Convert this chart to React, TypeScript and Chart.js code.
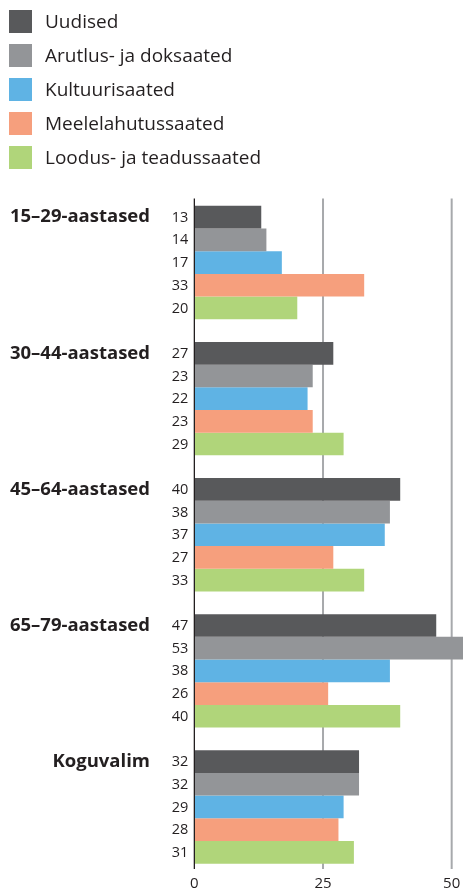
import React, { useEffect, useRef } from "react";
import { Chart, registerables } from "chart.js";

Chart.register(...registerables);

const categories = ["15–29-aastased", "30–44-aastased", "45–64-aastased", "65–79-aastased", "Koguvalim"];
const seriesNames = ["Uudised", "Arutlus- ja doksaated", "Kultuurisaated", "Meelelahutussaated", "Loodus- ja teadussaated"];
const uudised = [13, 27, 40, 47, 32];
const arutlus = [14, 23, 38, 53, 32];
const kultuur = [17, 22, 37, 38, 29];
const meelelahutus = [33, 23, 27, 26, 28];
const loodus = [20, 29, 33, 40, 31];
const xTicks = [0, 25, 50];
const colors = ["#58595b", "#939598", "#5fb3e4", "#f69f7d", "#b0d57a"];

const FONT = "'Open Sans', 'Noto Sans', sans-serif";
const TEXT = "#231f20";

const labelPlugin = {
  id: "customLabels",
  beforeDatasetsDraw(chart: any) {
    const { ctx, chartArea, scales } = chart;
    const x = scales.x;
    ctx.save();
    xTicks.forEach((v) => {
      if (v === 0) return;
      const px = x.getPixelForValue(v);
      ctx.beginPath();
      ctx.strokeStyle = "#a7a9ac";
      ctx.lineWidth = 2;
      ctx.moveTo(px, chartArea.top + 4);
      ctx.lineTo(px, chartArea.bottom - 6);
      ctx.stroke();
    });
    ctx.restore();
  },
  afterDatasetsDraw(chart: any) {
    const { ctx, chartArea, scales } = chart;
    const x = scales.x;
    ctx.save();
    const p0 = x.getPixelForValue(0);
    ctx.beginPath();
    ctx.strokeStyle = TEXT;
    ctx.lineWidth = 1.3;
    ctx.moveTo(p0, chartArea.top + 4);
    ctx.lineTo(p0, chartArea.bottom - 6);
    ctx.stroke();

    ctx.fillStyle = TEXT;
    ctx.textBaseline = "middle";
    ctx.textAlign = "right";
    ctx.font = `14.5px ${FONT}`;
    chart.data.datasets.forEach((ds: any, i: number) => {
      const meta = chart.getDatasetMeta(i);
      meta.data.forEach((bar: any, j: number) => {
        ctx.fillText(String(ds.data[j]), chartArea.left - 6, bar.y + 0.5);
      });
    });
    ctx.font = `bold 18.5px ${FONT}`;
    const first = chart.getDatasetMeta(0);
    categories.forEach((c, j) => {
      const bar = first.data[j];
      ctx.fillText(c, 150, bar.y);
    });
    ctx.restore();
  },
};

export default function App() {
  const ref = useRef<HTMLCanvasElement>(null);
  useEffect(() => {
    if (!ref.current) return;
    const series = [uudised, arutlus, kultuur, meelelahutus, loodus];
    const chart = new Chart(ref.current, {
      type: "bar",
      data: {
        labels: categories,
        datasets: series.map((d, i) => ({
          label: seriesNames[i],
          data: d,
          backgroundColor: colors[i],
          borderWidth: 0,
          categoryPercentage: 5 / 6,
          barPercentage: 1,
        })),
      },
      options: {
        indexAxis: "y",
        animation: false,
        responsive: false,
        maintainAspectRatio: false,
        layout: { padding: { left: 194.35, top: 194.5, right: 0, bottom: 0 } },
        plugins: { legend: { display: false }, tooltip: { enabled: false } },
        scales: {
          x: {
            type: "linear",
            min: 0,
            max: 52.2,
            grid: { display: false, drawTicks: false, tickLength: 0 },
            border: { display: false },
            ticks: { font: { size: 15, family: FONT, lineHeight: 1 }, color: TEXT, padding: 1, maxRotation: 0 },
            afterBuildTicks: (s: any) => {
              s.ticks = xTicks.map((v) => ({ value: v }));
            },
          },
          y: { type: "category", display: false, offset: true },
        },
      },
      plugins: [labelPlugin],
    } as any);
    return () => chart.destroy();
  }, []);

  return (
    <div style={{ position: "absolute", left: 0, top: 0, width: 463, height: 891, overflow: "hidden", background: "#fff" }}>
      <canvas ref={ref} width={463} height={892} style={{ position: "absolute", left: 0, top: 0 }} />
      {seriesNames.map((n, i) => (
        <div key={n} style={{ position: "absolute", left: 0, top: 10 + 34 * i, height: 23 }}>
          <div style={{ position: "absolute", left: 9, top: 0, width: 23, height: 23, background: colors[i] }} />
          <span style={{ position: "absolute", left: 45, top: 0, lineHeight: "23px", fontFamily: FONT, fontSize: 19, color: TEXT, whiteSpace: "nowrap" }}>{n}</span>
        </div>
      ))}
    </div>
  );
}
